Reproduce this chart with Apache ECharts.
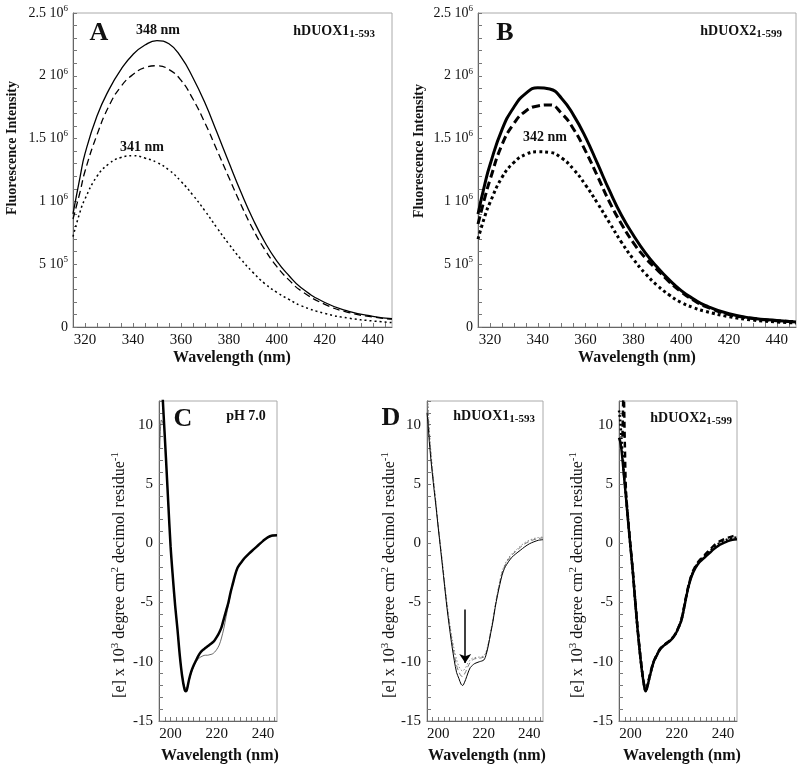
<!DOCTYPE html>
<html><head><meta charset="utf-8">
<script src="https://cdn.jsdelivr.net/npm/echarts@6/dist/echarts.min.js"></script>
<style>html,body{margin:0;padding:0;background:#fff}#c{width:800px;height:770px}</style>
</head><body><div id="c"></div>
<script>
// ---------- Panel A: fluorescence hDUOX1 (units of 10^6) ----------
const fluoA_wl = [315,318,320,325,330,335,340,345,350,355,360,365,370,375,380,385,390,395,400,405,410,420,430,440,448];
const fluoA_solid = [0.90,1.20,1.38,1.68,1.89,2.05,2.17,2.245,2.28,2.255,2.15,1.985,1.785,1.55,1.31,1.075,0.86,0.675,0.525,0.41,0.315,0.195,0.125,0.085,0.066];
const fluoA_dashed = [0.86,1.08,1.24,1.53,1.76,1.915,2.01,2.065,2.08,2.05,1.965,1.815,1.625,1.41,1.19,0.975,0.78,0.615,0.48,0.375,0.29,0.18,0.115,0.08,0.062];
const fluoA_dotted = [0.72,0.92,1.02,1.20,1.30,1.35,1.364,1.345,1.31,1.25,1.16,1.05,0.925,0.79,0.66,0.54,0.435,0.345,0.275,0.22,0.17,0.108,0.07,0.048,0.035];
// ---------- Panel B: fluorescence hDUOX2 ----------
const fluoB_wl = [315,318,320,325,330,335,340,345,350,355,360,365,370,375,380,385,390,395,400,405,410,420,430,440,448];
const fluoB_solid = [0.90,1.15,1.29,1.57,1.75,1.86,1.905,1.895,1.82,1.685,1.51,1.30,1.085,0.89,0.73,0.59,0.475,0.375,0.29,0.225,0.172,0.105,0.07,0.052,0.04];
const fluoB_dashed = [0.82,1.04,1.17,1.45,1.62,1.72,1.76,1.768,1.70,1.575,1.40,1.20,0.995,0.82,0.67,0.55,0.455,0.36,0.28,0.215,0.165,0.10,0.068,0.05,0.042];
const fluoB_dotted = [0.70,0.89,0.99,1.19,1.31,1.375,1.395,1.39,1.345,1.255,1.13,0.985,0.83,0.675,0.54,0.425,0.33,0.255,0.195,0.155,0.125,0.082,0.055,0.04,0.032];
// ---------- Panel C: CD pH 7.0 ----------
const cdC_wl_thick = [196,197,198,199,200,201,202,203,204,205,206,206.6,207,208,209,210,211,212,213,214,215,216,217,218,219,220,221,222,223,224,225,226,227,228,229,230,231,232,234,236,238,240,242,244,246];
const cdC_thick = [14.5,10.8,7.2,3.4,-0.25,-2.9,-5.3,-7.3,-9.5,-11.2,-12.3,-12.5,-12.4,-11.5,-10.8,-10.3,-9.9,-9.5,-9.2,-9.0,-8.85,-8.7,-8.55,-8.4,-8.2,-7.9,-7.55,-7.1,-6.4,-5.7,-5.0,-4.1,-3.35,-2.6,-2.05,-1.75,-1.5,-1.25,-0.85,-0.5,-0.15,0.2,0.5,0.65,0.68];
const cdC_wl_thin = [195.3,196,196.6,197.3,198,199,200,201,202,203,204,205,206,207,208,209,210,211,212,213,214,215,216,217,218,219,220,221,222,223,224,225,226,227,228,229,230,232,234,236,238,240,242,244,246];
const cdC_thin = [8.0,10.4,10.2,9.8,7.2,3.4,-0.25,-2.9,-5.3,-7.3,-9.5,-11.1,-12.1,-12.3,-11.6,-10.9,-10.4,-10.0,-9.75,-9.6,-9.5,-9.45,-9.45,-9.4,-9.35,-9.2,-8.95,-8.6,-8.0,-7.2,-6.2,-5.2,-4.2,-3.4,-2.65,-2.1,-1.8,-1.3,-0.9,-0.55,-0.2,0.15,0.45,0.6,0.65];
// ---------- Panel D left: CD hDUOX1 ----------
const cdD1_wl = [195,195.5,196,197,198,199,200,201,202,203,204,205,206,207,208,209,210,210.7,211,212,213,214,215,216,218,220,221,222,223,224,225,226,227,228,229,230,232,234,236,238,240,242,244,246];
const cdD1_solid = [11.0,10.0,8.6,6.5,4.7,3.0,1.2,-0.55,-2.3,-4.1,-5.8,-7.3,-8.7,-9.9,-10.9,-11.4,-11.9,-12.0,-11.95,-11.5,-10.95,-10.5,-10.3,-10.15,-10.0,-9.85,-9.4,-8.6,-7.6,-6.6,-5.4,-4.4,-3.5,-2.7,-2.15,-1.8,-1.25,-0.9,-0.6,-0.3,-0.05,0.12,0.25,0.3];
const cdD1_dashed = [12.5,11.0,9.2,6.9,5.0,3.2,1.3,-0.4,-2.1,-3.9,-5.6,-7.0,-8.3,-9.4,-10.3,-10.85,-11.2,-11.25,-11.2,-10.85,-10.4,-10.05,-9.85,-9.75,-9.7,-9.6,-9.25,-8.5,-7.5,-6.5,-5.3,-4.25,-3.3,-2.5,-2.0,-1.6,-1.05,-0.7,-0.35,-0.05,0.15,0.3,0.4,0.45];
const cdD1_dotted = [13.0,11.6,9.6,7.1,5.1,3.3,1.4,-0.3,-2.0,-3.8,-5.4,-6.8,-8.0,-9.0,-9.8,-10.4,-10.7,-10.8,-10.75,-10.5,-10.1,-9.85,-9.7,-9.65,-9.6,-9.5,-9.15,-8.4,-7.4,-6.4,-5.2,-4.15,-3.2,-2.4,-1.9,-1.5,-0.95,-0.6,-0.25,0.05,0.25,0.4,0.48,0.52];
const arrowD1 = [211.8, -5.6, -10.1]; // x, start y, end y
// ---------- Panel D right: CD hDUOX2 ----------
const cdD2_wl = [195,195.5,196,196.5,197,198,199,200,201,202,203,204,205,206,206.5,207,208,209,210,211,212,213,214,215,216,217,218,219,220,221,222,223,224,225,226,227,228,229,230,232,234,236,238,240,242,244,246];
const cdD2_solid = [8.9,8.6,8.0,7.1,6.0,3.9,1.7,-0.4,-2.5,-4.9,-7.2,-9.2,-10.9,-12.2,-12.5,-12.3,-11.5,-10.7,-10.0,-9.6,-9.2,-8.9,-8.7,-8.55,-8.4,-8.25,-8.05,-7.8,-7.45,-7.0,-6.5,-5.6,-4.6,-3.7,-3.0,-2.5,-2.1,-1.8,-1.55,-1.2,-0.85,-0.5,-0.2,0.0,0.18,0.3,0.34];
const cdD2_dotted = [11.2,10.4,9.0,7.6,6.2,4.0,1.8,-0.35,-2.45,-4.85,-7.15,-9.15,-10.85,-12.15,-12.45,-12.25,-11.45,-10.65,-9.98,-9.58,-9.18,-8.88,-8.68,-8.53,-8.38,-8.22,-8.02,-7.78,-7.42,-6.98,-6.45,-5.55,-4.55,-3.65,-2.95,-2.42,-2.02,-1.72,-1.48,-1.1,-0.72,-0.35,-0.05,0.15,0.32,0.44,0.5];
const cdD2_wl_dashed = [196.5,197,197.5,198,199,200,201,202,203,204,205,206,206.5,207,208,209,210,211,212,213,214,215,216,217,218,219,220,221,222,223,224,225,226,227,228,229,230,232,234,236,238,240,242,244,246];
const cdD2_dashed = [9.0,13.0,8.5,4.5,1.9,-0.3,-2.4,-4.8,-7.1,-9.1,-10.8,-12.1,-12.4,-12.2,-11.4,-10.6,-9.95,-9.55,-9.15,-8.85,-8.65,-8.5,-8.35,-8.2,-8.0,-7.75,-7.4,-6.95,-6.4,-5.5,-4.5,-3.6,-2.9,-2.35,-1.95,-1.65,-1.4,-1.0,-0.6,-0.2,0.1,0.3,0.45,0.58,0.65];
// ---------- tick labels ----------
const fluoXLabels = [320,340,360,380,400,420,440];
const fluoYLabels = [0,0.5,1,1.5,2,2.5];
const cdXLabels = [200,220,240];
const cdYLabels = [-15,-10,-5,0,5,10];

const FF = "'Liberation Serif','Times New Roman',serif";
function pairs(x, y){ return x.map((v,i)=>[v,y[i]]); }
function range(a,b,s){ const r=[]; for(let v=a; v<=b+1e-9; v+=s) r.push(+v.toFixed(4)); return r; }

const grids = [
  {left:73, top:13, width:319, height:314},
  {left:478, top:13, width:318, height:314},
  {left:159, top:401, width:118, height:320},
  {left:427, top:401, width:116, height:320},
  {left:619, top:401, width:118, height:320}
].map(g => Object.assign({show:true, borderColor:'#aaa', borderWidth:1, backgroundColor:'transparent'}, g));

const tickBase = {show:true, inside:true, length:4, lineStyle:{color:'#777', width:1}};
const lineBase = {show:true, onZero:false, lineStyle:{color:'#666', width:1}};

function fluoX(i){ return {type:'value', gridIndex:i, min:315, max:448,
  axisLine:lineBase, splitLine:{show:false},
  axisTick:Object.assign({customValues:range(320,445,5)}, tickBase),
  axisLabel:{customValues:fluoXLabels, fontFamily:FF, fontSize:15, color:'#111', margin:6}}; }
function fluoY(i){ return {type:'value', gridIndex:i, min:0, max:2.5,
  axisLine:lineBase, splitLine:{show:false},
  axisTick:Object.assign({customValues:range(0,2.5,0.1)}, tickBase),
  axisLabel:{customValues:fluoYLabels, margin:5,
    formatter:function(v){ if(Math.abs(v)<1e-9) return '{n|0}';
      if(v<1) return '{n|'+Math.round(v*10)+' 10}{s|5}';
      return '{n|'+(+v.toFixed(1))+' 10}{s|6}'; },
    rich:{n:{fontFamily:FF, fontSize:14, color:'#111', lineHeight:18},
          s:{fontFamily:FF, fontSize:9, color:'#111', lineHeight:9, verticalAlign:'top'}}}}; }
function cdX(i){ return {type:'value', gridIndex:i, min:195, max:246,
  axisLine:lineBase, splitLine:{show:false},
  axisTick:Object.assign({customValues:range(197.5,245,2.5)}, tickBase),
  axisLabel:{customValues:cdXLabels, fontFamily:FF, fontSize:15, color:'#111', margin:6}}; }
function cdY(i){ return {type:'value', gridIndex:i, min:-15, max:12,
  axisLine:lineBase, splitLine:{show:false},
  axisTick:Object.assign({customValues:range(-15,12,1)}, tickBase),
  axisLabel:{customValues:cdYLabels, fontFamily:FF, fontSize:15, color:'#111', margin:6}}; }

function ser(i, data, width, type, color, smooth){
  return {type:'line', xAxisIndex:i, yAxisIndex:i, data:data, showSymbol:false, symbol:'none',
    smooth: smooth, clip:true,
    lineStyle:{color:color||'#000', width:width, type:type}};
}

const series = [
  ser(0, pairs(fluoA_wl, fluoA_solid), 1.3, 'solid', '#000', 0.5),
  ser(0, pairs(fluoA_wl, fluoA_dashed), 1.3, [7,4], '#000', 0.5),
  ser(0, pairs(fluoA_wl, fluoA_dotted), 1.5, [2,3], '#000', 0.5),
  ser(1, pairs(fluoB_wl, fluoB_solid), 3, 'solid', '#000', 0.5),
  ser(1, pairs(fluoB_wl, fluoB_dashed), 3, [8,4], '#000', 0.5),
  ser(1, pairs(fluoB_wl, fluoB_dotted), 3, [3,3], '#000', 0.5),
  ser(2, pairs(cdC_wl_thin, cdC_thin), 0.8, 'solid', '#444', 0.3),
  ser(2, pairs(cdC_wl_thick, cdC_thick), 2.5, 'solid', '#000', 0.3),
  ser(3, pairs(cdD1_wl, cdD1_dotted), 1, [1.5,2], '#888', 0.3),
  ser(3, pairs(cdD1_wl, cdD1_dashed), 1, [5,3], '#777', 0.3),
  Object.assign(ser(3, pairs(cdD1_wl, cdD1_solid), 1, 'solid', '#000', 0.3), {
    markLine:{silent:true, symbol:['none','arrow'], symbolSize:9, animation:false,
      label:{show:false}, lineStyle:{color:'#000', width:1.5, type:'solid'},
      data:[[{coord:[arrowD1[0], arrowD1[1]]},{coord:[arrowD1[0], arrowD1[2]]}]]}}),
  ser(4, pairs(cdD2_wl, cdD2_dotted), 2.5, [2,2.5], '#000', 0.3),
  ser(4, pairs(cdD2_wl_dashed, cdD2_dashed), 2.5, [6,4], '#000', 0.3),
  ser(4, pairs(cdD2_wl, cdD2_solid), 2.5, 'solid', '#000', 0.3)
];

function txt(x, y, text, size, bold, extra){
  return Object.assign({type:'text', x:x, y:y, silent:true,
    style:{text:text, fontFamily:FF, fontSize:size, fontWeight:bold?'bold':'normal', fill:'#111',
      align:'center', verticalAlign:'middle'}}, extra||{});
}
function subTxt(x, y, main, sub, anchor){
  return {type:'text', x:x, y:y, silent:true, style:{
    text:'{b|'+main+'}{s|'+sub+'}', align:anchor||'right', verticalAlign:'middle',
    rich:{b:{fontFamily:FF, fontSize:14, fontWeight:'bold', fill:'#111', lineHeight:18},
          s:{fontFamily:FF, fontSize:11, fontWeight:'bold', fill:'#111', lineHeight:11, verticalAlign:'bottom'}}}};
}
function cdTitle(x, y){
  return {type:'text', x:x, y:y, rotation:Math.PI/2, silent:true, style:{
    text:'{n|[e] x 10}{s|3}{n| degree cm}{s|2}{n| decimol residue}{s|-1}', align:'center', verticalAlign:'middle',
    rich:{n:{fontFamily:FF, fontSize:16, fill:'#111', lineHeight:20},
          s:{fontFamily:FF, fontSize:11, fill:'#111', lineHeight:11, verticalAlign:'top'}}}};
}
const R = {rotation:Math.PI/2};
const graphics = [
  txt(99, 33, 'A', 26, true), txt(505, 33, 'B', 26, true),
  txt(183, 419, 'C', 26, true), txt(391, 418, 'D', 26, true),
  txt(158, 30, '348 nm', 14, true), txt(142, 147, '341 nm', 14, true), txt(545, 137, '342 nm', 14, true),
  subTxt(375, 31, 'hDUOX1', '1-593'), subTxt(782, 31, 'hDUOX2', '1-599'),
  txt(246, 416, 'pH 7.0', 14, true),
  subTxt(535, 416, 'hDUOX1', '1-593'), subTxt(732, 418, 'hDUOX2', '1-599'),
  txt(12, 148, 'Fluorescence Intensity', 14, true, R), txt(419, 151, 'Fluorescence Intensity', 14, true, R),
  txt(232, 358, 'Wavelength (nm)', 16, true), txt(637, 358, 'Wavelength (nm)', 16, true),
  txt(220, 756, 'Wavelength (nm)', 16, true), txt(487, 756, 'Wavelength (nm)', 16, true), txt(682, 756, 'Wavelength (nm)', 16, true),
  cdTitle(120, 575), cdTitle(390, 575), cdTitle(578, 575)
];

const chart = echarts.init(document.getElementById('c'), null, {renderer:'canvas'});
chart.setOption({
  animation:false, backgroundColor:'#fff',
  grid:grids,
  xAxis:[fluoX(0), fluoX(1), cdX(2), cdX(3), cdX(4)],
  yAxis:[fluoY(0), fluoY(1), cdY(2), cdY(3), cdY(4)],
  series:series,
  graphic:graphics
});
</script></body></html>
